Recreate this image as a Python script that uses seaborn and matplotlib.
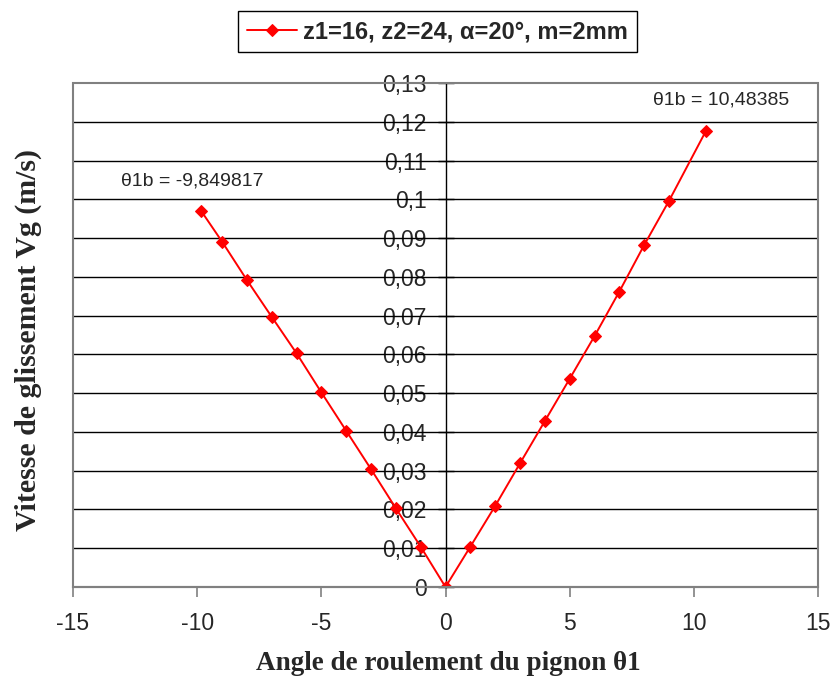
import matplotlib
matplotlib.use("Agg")
import matplotlib.pyplot as plt
import seaborn as sns
import pandas as pd
from matplotlib.patches import Rectangle
from matplotlib.ticker import FixedLocator, FixedFormatter

# Rolling angle of the pinion (θ1) and sliding velocity Vg (m/s)
theta = [-9.849817, -9, -8, -7, -6, -5, -4, -3, -2, -1, 0,
         1, 2, 3, 4, 5, 6, 7, 8, 9, 10.48385]
vg = [0.0971, 0.0891, 0.0792, 0.0697, 0.0603, 0.0502, 0.0403, 0.0304, 0.0203, 0.0104, 0.0,
      0.0104, 0.0209, 0.0319, 0.0428, 0.0537, 0.0647, 0.0762, 0.0882, 0.0996, 0.1176]
series_label = "z1=16, z2=24, α=20°, m=2mm"

x_ticks = [-15, -10, -5, 0, 5, 10, 15]
y_ticks = [0.00, 0.01, 0.02, 0.03, 0.04, 0.05, 0.06, 0.07, 0.08, 0.09, 0.10, 0.11, 0.12, 0.13]
y_tick_labels = ["0", "0,01", "0,02", "0,03", "0,04", "0,05", "0,06", "0,07",
                 "0,08", "0,09", "0,1", "0,11", "0,12", "0,13"]

annot_left = "θ1b = -9,849817"
annot_right = "θ1b = 10,48385"

sns.set_theme(style="white")
plt.rcParams["font.family"] = ["Liberation Sans", "DejaVu Sans"]

df = pd.DataFrame({"theta": theta, "vg": vg})

fig = plt.figure(figsize=(8.35, 6.95), dpi=100)
ax = fig.add_axes([73 / 835, 1 - 587 / 695, (818 - 73) / 835, (587 - 83) / 695])

for y in y_ticks[1:-1]:
    ax.axhline(y, color="black", lw=1.0, zorder=1)

sns.lineplot(data=df, x="theta", y="vg", ax=ax, color="#ff0000", lw=1.4,
             marker="D", markersize=6.3, markeredgecolor="#ff0000",
             markerfacecolor="#ff0000", label=series_label, zorder=3)

ax.set_xlim(-15, 15)
ax.set_ylim(0, 0.13)

# vertical value axis crosses at θ1 = 0
ax.spines["left"].set_position(("data", 0))
ax.spines["left"].set_color("black")
ax.spines["left"].set_linewidth(1.0)
for s in ["right", "top"]:
    ax.spines[s].set_visible(False)
ax.spines["bottom"].set_color("#808080")
ax.spines["bottom"].set_linewidth(1.5)
ax.add_patch(Rectangle((0, 0), 1, 1, transform=ax.transAxes, fill=False,
                       edgecolor="#808080", lw=1.5, zorder=4, clip_on=False))

ax.xaxis.set_major_locator(FixedLocator(x_ticks))
ax.set_xticklabels([str(t) for t in x_ticks])
ax.yaxis.set_major_locator(FixedLocator(y_ticks))
ax.yaxis.set_major_formatter(FixedFormatter(y_tick_labels))

ax.tick_params(axis="x", direction="out", length=7, width=1.2, color="#808080",
               labelsize=16.5, pad=11, bottom=True)
ax.tick_params(axis="y", direction="inout", length=12, width=1.0, color="black",
               labelsize=16.5, pad=7.5, left=True)

ax.set_xlabel("")
ax.set_ylabel("")

fig.text(448 / 835, 1 - 664 / 695, "Angle de roulement du pignon θ1",
         family=["Liberation Serif", "DejaVu Serif"], fontweight="bold",
         fontsize=19.5, ha="center", va="center")
fig.text(28 / 835, 1 - 340 / 695, "Vitesse de glissement Vg (m/s)",
         family=["Liberation Serif", "DejaVu Serif"], fontweight="bold",
         fontsize=21.5, ha="center", va="center", rotation=90)

ax.text(-10.19, 0.1048, annot_left, fontsize=14, ha="center", va="center")
ax.text(11.1, 0.1256, annot_right, fontsize=14, ha="center", va="center")

leg = ax.legend(loc="center", bbox_to_anchor=(437.5 / 835, 1 - 31.5 / 695),
                bbox_transform=fig.transFigure, frameon=True, fancybox=False,
                edgecolor="black", framealpha=1, handlelength=2.1,
                borderpad=0.4, handletextpad=0.25,
                prop={"family": ["Liberation Sans", "DejaVu Sans"],
                      "weight": "bold", "size": 17})
leg.get_frame().set_linewidth(1.0)

fig.savefig("out.png", dpi=100)
